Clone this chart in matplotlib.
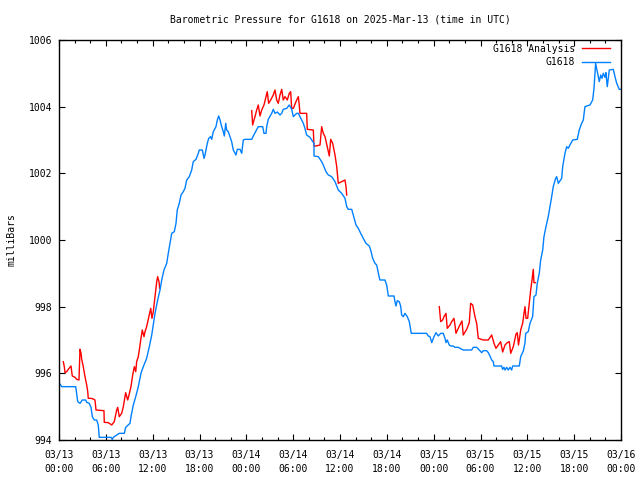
import numpy as np
import matplotlib
matplotlib.use("Agg")
import matplotlib.pyplot as plt

# hours since 2025-03-13 00:00 UTC
obs_h = [0.0, 0.35, 2.14, 2.40, 2.69, 2.98, 3.42, 3.55, 3.88, 4.10, 4.27, 4.52, 4.83, 5.03, 5.16,
         6.66, 6.83, 6.96, 7.72, 8.37, 8.54, 9.10, 9.22, 9.52, 9.83, 10.16, 10.50, 10.80, 11.23,
         11.57, 11.88, 12.30, 12.64, 12.94, 13.16, 13.45, 13.80, 14.00, 14.22, 14.44, 14.77, 14.99,
         15.15, 15.41, 15.63, 15.92, 16.14, 16.36, 16.69, 17.00, 17.20, 17.55, 17.85, 17.97, 18.36,
         18.58, 18.70, 19.00, 19.18, 19.43, 19.56, 19.77, 20.11, 20.28, 20.46, 20.63, 20.84, 21.05,
         21.18, 21.36, 21.48, 21.69, 21.91, 22.12, 22.33, 22.67, 22.84, 23.19, 23.41, 23.61, 23.83,
         24.69, 24.89, 25.53, 26.10, 26.26, 26.52, 26.61, 26.81, 27.25, 27.45, 27.67, 27.97, 28.31,
         28.53, 28.73, 29.17, 29.50, 29.81, 30.02, 30.45, 30.66, 30.87, 31.30, 31.51, 31.73, 32.15,
         32.37, 32.67, 32.67, 33.22, 33.65, 33.86, 34.20, 34.50, 34.94, 35.36, 35.78, 36.22, 36.64,
         36.86, 37.06, 37.50, 37.70, 38.05, 38.34, 38.65, 38.98, 39.33, 39.75, 39.93, 40.19, 40.48,
         40.70, 40.83, 41.03, 41.12, 41.76, 41.98, 42.19, 42.92, 43.04, 43.17, 43.34, 43.59, 43.77,
         43.90, 44.11, 44.32, 44.62, 44.88, 45.13, 47.10, 47.31, 47.53, 47.75, 48.04, 48.30, 48.59,
         48.90, 49.23, 49.45, 49.58, 49.74, 50.00, 50.18, 50.51, 50.73, 51.15, 51.37, 51.79, 52.87,
         53.07, 53.51, 53.84, 54.15, 54.36, 54.79, 55.00, 55.21, 55.43, 55.64, 55.73, 56.71, 56.84,
         57.01, 57.14, 57.35, 57.56, 57.78, 57.99, 58.12, 58.97, 59.15, 59.48, 59.70, 59.79, 60.12,
         60.34, 60.68, 60.85, 61.11, 61.27, 61.53, 61.71, 61.97, 62.13, 62.39, 62.68, 62.90, 63.12,
         63.32, 63.63, 63.76, 63.97, 64.40, 64.53, 64.82, 65.04, 65.24, 65.46, 65.81, 66.40, 66.65,
         66.96, 67.17, 67.38, 68.02, 68.37, 68.54, 68.75, 68.88, 69.01, 69.22, 69.40, 69.56, 69.73,
         69.95, 70.07, 70.24, 70.50, 71.01, 71.23, 71.45, 71.78, 72.0]
obs_p = [995.72, 995.60, 995.60, 995.15, 995.10, 995.20, 995.20, 995.13, 995.10, 994.98, 994.70,
         994.60, 994.60, 994.45, 994.08, 994.08, 994.02, 994.08, 994.20, 994.20, 994.38, 994.50,
         994.70, 995.05, 995.30, 995.60, 996.00, 996.20, 996.45, 996.80, 997.15, 997.80, 998.20,
         998.50, 998.80, 999.10, 999.30, 999.60, 999.90, 1000.20, 1000.25, 1000.50, 1000.90, 1001.10,
         1001.35, 1001.45, 1001.55, 1001.80, 1001.90, 1002.10, 1002.35, 1002.42, 1002.60, 1002.70,
         1002.70, 1002.45, 1002.55, 1002.90, 1003.05, 1003.10, 1003.02, 1003.25, 1003.40, 1003.60,
         1003.72, 1003.60, 1003.40, 1003.25, 1003.12, 1003.50, 1003.30, 1003.25, 1003.10, 1002.95,
         1002.70, 1002.55, 1002.72, 1002.72, 1002.60, 1003.00, 1003.02, 1003.02, 1003.12, 1003.40,
         1003.40, 1003.20, 1003.20, 1003.40, 1003.62, 1003.80, 1003.92, 1003.80, 1003.84, 1003.75,
         1003.80, 1003.92, 1003.95, 1004.05, 1003.92, 1003.70, 1003.80, 1003.80, 1003.70, 1003.50,
         1003.35, 1003.15, 1003.08, 1003.00, 1002.90, 1002.52, 1002.50, 1002.35, 1002.25, 1002.05,
         1001.95, 1001.90, 1001.75, 1001.50, 1001.40, 1001.25, 1001.00, 1000.92, 1000.92, 1000.75,
         1000.45, 1000.35, 1000.20, 1000.05, 999.90, 999.82, 999.70, 999.45, 999.30, 999.25, 999.10,
         998.88, 998.80, 998.80, 998.65, 998.32, 998.32, 998.15, 998.02, 998.18, 998.15, 998.02,
         997.75, 997.70, 997.80, 997.70, 997.55, 997.20, 997.20, 997.12, 997.10, 996.92, 997.10,
         997.22, 997.12, 997.20, 997.20, 997.05, 996.92, 997.00, 996.85, 996.82, 996.82, 996.78,
         996.78, 996.75, 996.70, 996.70, 996.78, 996.78, 996.70, 996.62, 996.68, 996.68, 996.62,
         996.52, 996.40, 996.35, 996.22, 996.22, 996.12, 996.18, 996.10, 996.18, 996.10, 996.18,
         996.10, 996.22, 996.22, 996.50, 996.67, 996.91, 997.20, 997.25, 997.50, 997.70, 998.30,
         998.35, 998.70, 999.00, 999.40, 999.70, 1000.10, 1000.40, 1000.70, 1001.00, 1001.30,
         1001.60, 1001.85, 1001.90, 1001.70, 1001.85, 1002.20, 1002.60, 1002.80, 1002.75, 1002.85,
         1003.00, 1003.02, 1003.30, 1003.50, 1003.60, 1004.00, 1004.05, 1004.20, 1004.55, 1005.30,
         1005.15, 1005.00, 1004.75, 1004.95, 1004.85, 1005.00, 1004.88, 1005.02, 1004.60, 1005.10,
         1005.12, 1004.90, 1004.70, 1004.52, 1004.52]

# analysis series, nan marks the gaps
ana_h = [0.55, 0.68, 0.77, 0.99, 1.19, 1.54, 1.70, 2.05, 2.27, 2.56, 2.69, 2.82, 2.91, 3.11, 3.33,
         3.55, 3.68, 3.75, 4.10, 4.39, 4.61, 4.74, 5.76, 5.80, 6.32, 6.75, 7.08, 7.39, 7.52, 7.72,
         8.03, 8.24, 8.54, 8.80, 8.97, 9.22, 9.44, 9.65, 9.83, 9.95, 10.16, 10.29, 10.47, 10.67,
         10.89, 11.02, 11.23, 11.57, 11.75, 11.91, 12.08, 12.30, 12.52, 12.64, 12.81, 12.90,
         18.0,
         24.69, 24.81, 24.98, 25.11, 25.33, 25.53, 25.75, 25.97, 26.26, 26.52, 26.68, 26.86, 27.12,
         27.45, 27.67, 27.89, 28.09, 28.31, 28.53, 28.73, 28.95, 29.25, 29.50, 29.68, 29.81, 30.02,
         30.45, 30.66, 30.78, 30.87, 31.73, 31.81, 32.58, 32.67, 32.92, 33.44, 33.65, 33.86, 34.08,
         34.37, 34.63, 34.81, 35.06, 35.36, 35.58, 35.78, 36.22, 36.64, 36.77, 36.86,
         42.0,
         48.72, 48.90, 49.15, 49.32, 49.58, 49.74, 50.09, 50.31, 50.60, 50.73, 50.86, 51.15, 51.46,
         51.63, 51.79, 52.23, 52.56, 52.74, 53.00, 53.29, 53.51, 53.72, 54.36, 55.00, 55.43, 55.73,
         55.98, 56.28, 56.58, 56.84, 57.14, 57.43, 57.69, 57.87, 58.20, 58.55, 58.71, 58.87, 59.15,
         59.40, 59.57, 59.70, 59.83, 60.04, 60.25, 60.43, 60.60, 60.76, 60.85, 61.02]
ana_p = [996.35, 996.20, 996.02, 996.05, 996.12, 996.22, 995.92, 995.88, 995.82, 995.80, 996.72,
         996.60, 996.42, 996.20, 995.90, 995.65, 995.45, 995.25, 995.25, 995.23, 995.20, 994.90,
         994.88, 994.53, 994.52, 994.45, 994.55, 994.90, 994.98, 994.70, 994.80, 995.00, 995.42,
         995.20, 995.35, 995.60, 995.95, 996.20, 996.05, 996.35, 996.50, 996.70, 997.00, 997.30,
         997.10, 997.25, 997.40, 997.75, 997.95, 997.65, 997.85, 998.30, 998.75, 998.90, 998.75,
         998.55,
         np.nan,
         1003.88, 1003.45, 1003.60, 1003.70, 1003.90, 1004.05, 1003.72, 1003.90, 1004.05, 1004.30,
         1004.45, 1004.10, 1004.20, 1004.35, 1004.50, 1004.20, 1004.10, 1004.35, 1004.52, 1004.20,
         1004.30, 1004.20, 1004.40, 1004.45, 1003.95, 1003.95, 1004.20, 1004.30, 1004.05, 1003.80,
         1003.80, 1003.32, 1003.30, 1002.82, 1002.82, 1002.85, 1003.40, 1003.20, 1003.10, 1002.80,
         1002.52, 1003.02, 1002.90, 1002.55, 1002.20, 1001.70, 1001.75, 1001.80, 1001.60, 1001.35,
         np.nan,
         998.00, 997.55, 997.60, 997.70, 997.80, 997.35, 997.45, 997.55, 997.65, 997.45, 997.20,
         997.35, 997.50, 997.57, 997.15, 997.32, 997.52, 998.10, 998.05, 997.70, 997.50, 997.05,
         997.00, 997.00, 997.15, 996.90, 996.75, 996.85, 996.95, 996.64, 996.85, 996.92, 996.95,
         996.60, 996.80, 997.18, 997.22, 996.85, 997.30, 997.50, 997.80, 998.00, 997.65, 997.65,
         998.10, 998.50, 998.80, 999.12, 998.72, 998.72]

tick_h = [0, 6, 12, 18, 24, 30, 36, 42, 48, 54, 60, 66, 72]
tick_lbl = ['03/13\n00:00', '03/13\n06:00', '03/13\n12:00', '03/13\n18:00',
            '03/14\n00:00', '03/14\n06:00', '03/14\n12:00', '03/14\n18:00',
            '03/15\n00:00', '03/15\n06:00', '03/15\n12:00', '03/15\n18:00',
            '03/16\n00:00']

plt.rcParams['font.family'] = 'DejaVu Sans Mono'
plt.rcParams['font.size'] = 7

fig = plt.figure(figsize=(6.4, 4.8), dpi=100)
ax = fig.add_axes([59/640, 40/480, 562/640, 400/480])

ax.plot(ana_h, ana_p, color='#ff0000', lw=1.0, label='G1618 Analysis')
ax.plot(obs_h, obs_p, color='#0080ff', lw=1.0, label='G1618')

ax.set_xlim(0, 72)
ax.set_ylim(994, 1006)
ax.set_xticks(tick_h)
ax.set_xticklabels(tick_lbl, linespacing=1.5)
ax.set_xticks(np.arange(0, 73, 2), minor=True)
ax.set_yticks(np.arange(994, 1007, 2))
ax.tick_params(which='both', direction='in', top=True, right=True, width=0.8)
ax.tick_params(which='major', length=4.5, pad=5)
ax.tick_params(axis='x', which='major', pad=7)
ax.tick_params(which='minor', length=2.5)
for s in ax.spines.values():
    s.set_linewidth(1.0)

ax.set_ylabel('milliBars', labelpad=9)
fig.text(340/640, 1 - 20/480, 'Barometric Pressure for G1618 on 2025-Mar-13 (time in UTC)',
         ha='center', va='center')

ax.legend(loc='upper right', bbox_to_anchor=(0.9804, 0.991), frameon=False,
          markerfirst=False, borderpad=0, borderaxespad=0, labelspacing=0.4,
          handlelength=2.9, handletextpad=0.7)

fig.savefig('out.png', dpi=100)
